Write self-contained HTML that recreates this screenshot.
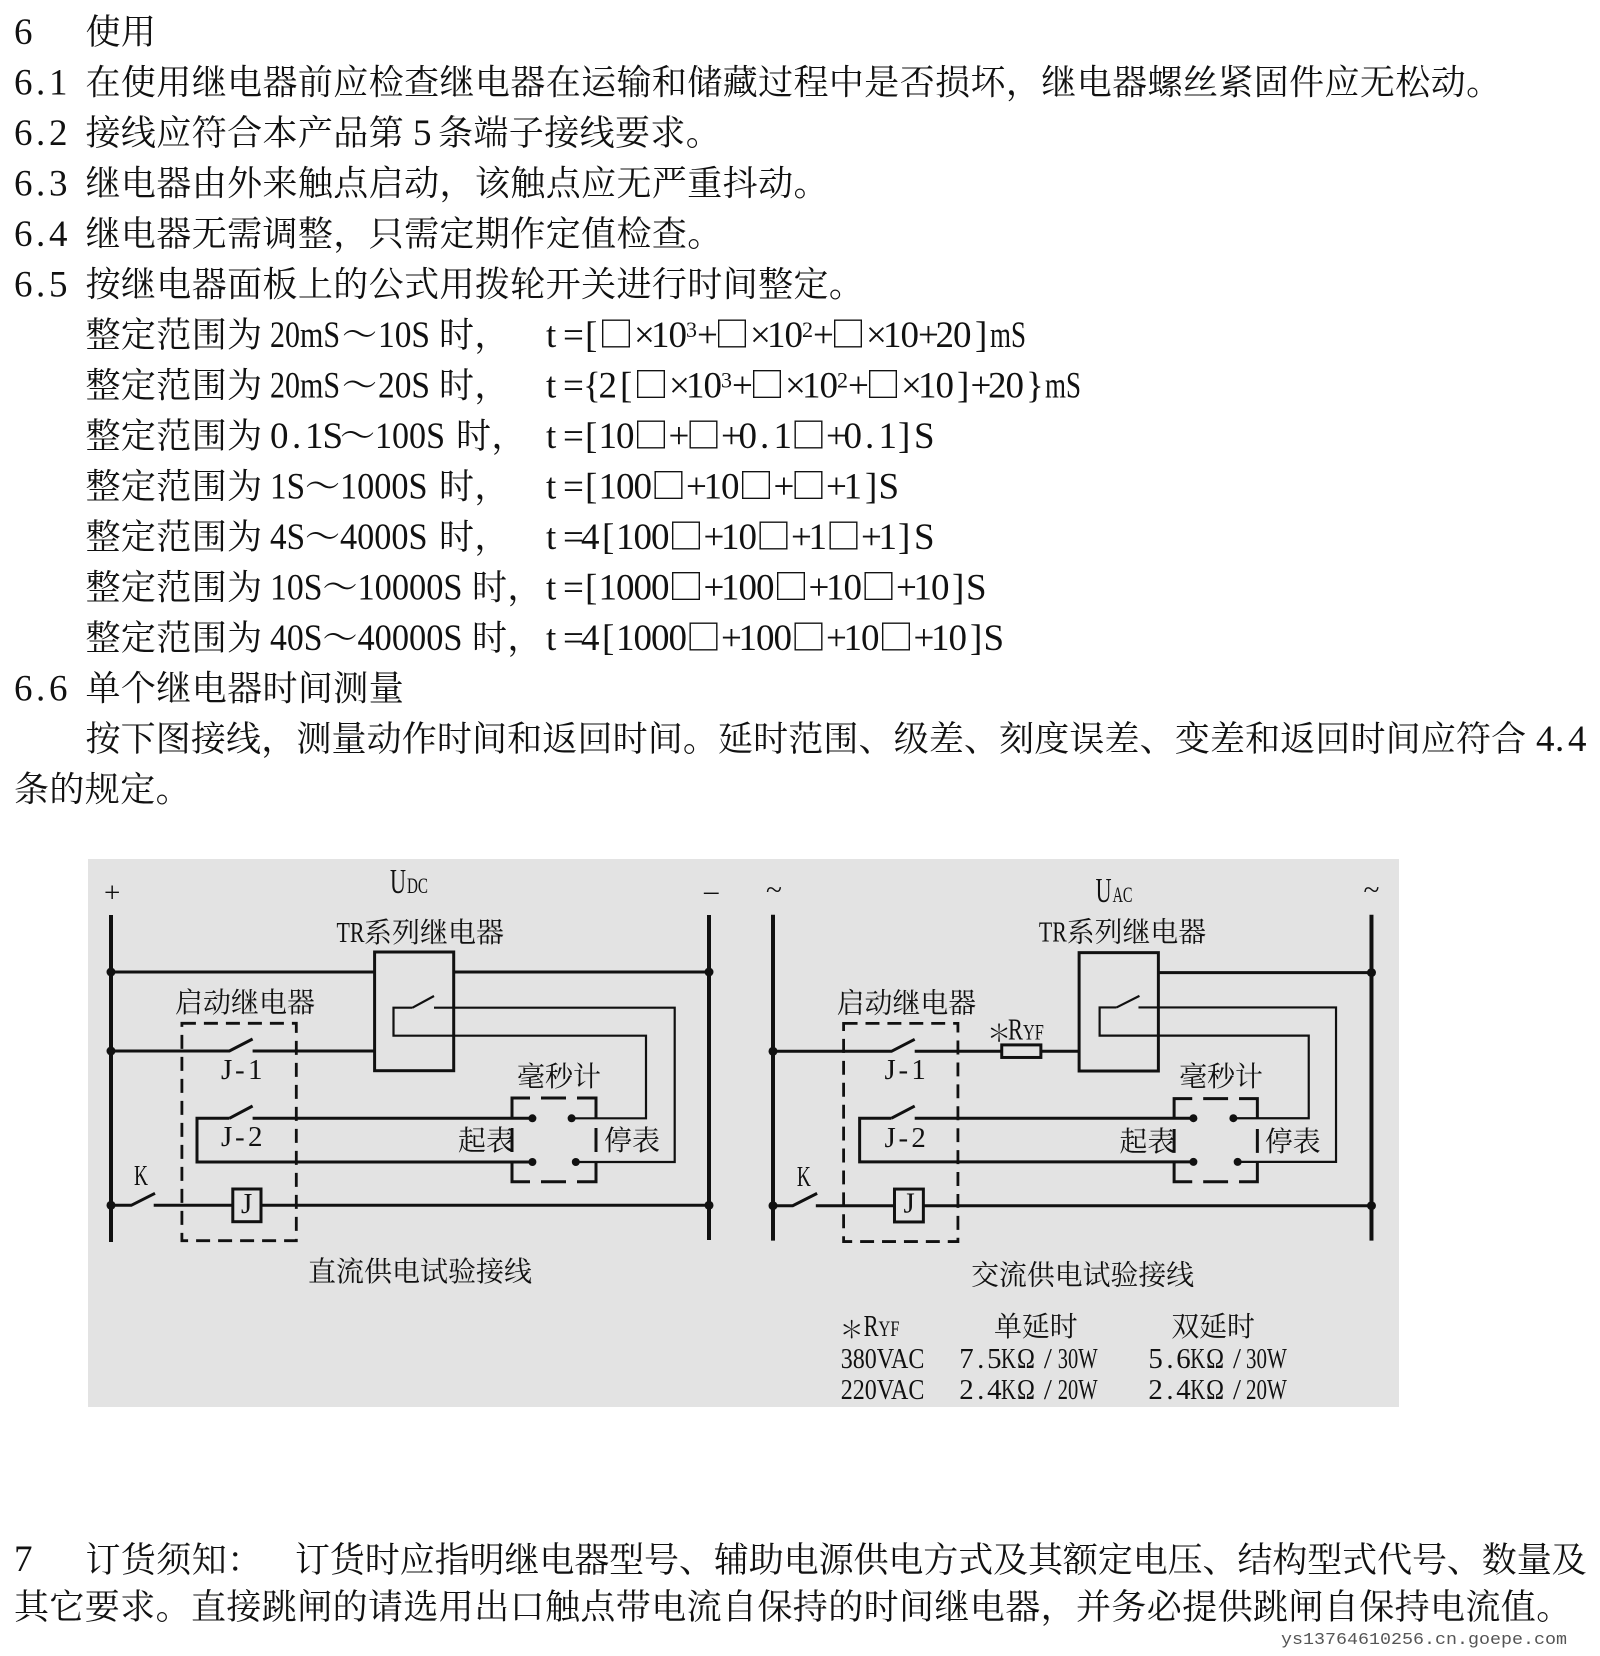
<!DOCTYPE html>
<html><head><meta charset="utf-8">
<style>
html,body{margin:0;padding:0;background:#fff}
svg{display:block}
text{fill:#111;white-space:pre}
.c{font-family:"Noto Serif CJK SC","Liberation Serif",serif;font-size:35px;letter-spacing:.4px}
.l{font:37px "Liberation Serif","Noto Serif CJK SC",serif}
.b{font-family:"Noto Serif CJK SC",serif;font-size:35px}
.sup{font:22px "Liberation Serif",serif}
.s{font:28px "Noto Serif CJK SC","Liberation Serif",serif}
.n{font:29px "Liberation Serif",serif}
.u{font:35px "Liberation Serif",serif}
.r{font:31px "Liberation Serif",serif}
.m{font:22px "Liberation Serif",serif}
.a{font:24px "Noto Serif CJK SC",serif}
.w{stroke:#111;stroke-width:3;fill:none}
.t{stroke:#111;stroke-width:2.2;fill:none}
.h{stroke:#111;stroke-width:4;fill:none}
.d{stroke:#111;stroke-width:2.8;fill:none;stroke-dasharray:14 8}
.wm{font:17px "Liberation Mono",monospace;fill:#555}
</style></head>
<body>
<svg xmlns="http://www.w3.org/2000/svg" width="1600" height="1656" viewBox="0 0 1600 1656">
<rect width="1600" height="1656" fill="#fff"/>

<!-- text body -->
<text class="l" x="14" y="44">6</text><text class="c" x="85.5" y="44">使用</text>
<text class="l" x="14 36 49" y="94.5">6.1</text><text class="c" x="85.5" y="94.5">在使用继电器前应检查继电器在运输和储藏过程中是否损坏，继电器螺丝紧固件应无松动。</text>
<text class="l" x="14 36 49" y="145">6.2</text><text class="c" x="85.5" y="145">接线应符合本产品第</text><text class="l" x="413" y="145">5</text><text class="c" x="438" y="145">条端子接线要求。</text>
<text class="l" x="14 36 49" y="195.5">6.3</text><text class="c" x="85.5" y="195.5">继电器由外来触点启动，该触点应无严重抖动。</text>
<text class="l" x="14 36 49" y="246">6.4</text><text class="c" x="85.5" y="246">继电器无需调整，只需定期作定值检查。</text>
<text class="l" x="14 36 49" y="296.5">6.5</text><text class="c" x="85.5" y="296.5">按继电器面板上的公式用拨轮开关进行时间整定。</text>

<!-- line 6 -->
<text class="c" x="85.5" y="347">整定范围为</text><text class="l" x="270" y="347" textLength="70" lengthAdjust="spacingAndGlyphs">20mS</text><text class="c" x="342" y="347">～</text><text class="l" x="378" y="347" textLength="52" lengthAdjust="spacingAndGlyphs">10S</text><text class="c" x="439" y="347">时，</text>
<text class="l" y="347" x="546 563 585 598.5 634 651 668.5 697 714.5 750 767 784.5 813 830.5 866 883 900.5 918 935.5 953 975">t=[<tspan class="b">□</tspan>×10+<tspan class="b">□</tspan>×10+<tspan class="b">□</tspan>×10+20]</text>
<text class="sup" x="686" y="337">3</text><text class="sup" x="802" y="337">2</text>
<text class="l" x="990" y="347" textLength="36" lengthAdjust="spacingAndGlyphs">mS</text>

<!-- line 7 -->
<text class="c" x="85.5" y="397.5">整定范围为</text><text class="l" x="270" y="397.5" textLength="70" lengthAdjust="spacingAndGlyphs">20mS</text><text class="c" x="342" y="397.5">～</text><text class="l" x="378" y="397.5" textLength="52" lengthAdjust="spacingAndGlyphs">20S</text><text class="c" x="439" y="397.5">时，</text>
<text class="l" y="397.5" x="546 563 583 598.5 620 633.5 669 686 703.5 732 749.5 785 802 819.5 848 865.5 901 918 935.5 957 970.5 988 1005.5 1026">t={2[<tspan class="b">□</tspan>×10+<tspan class="b">□</tspan>×10+<tspan class="b">□</tspan>×10]+20}</text>
<text class="sup" x="721" y="387.5">3</text><text class="sup" x="837" y="387.5">2</text>
<text class="l" x="1045" y="397.5" textLength="36" lengthAdjust="spacingAndGlyphs">mS</text>

<!-- line 8 -->
<text class="c" x="85.5" y="448">整定范围为</text><text class="l" x="270 292 305 322.5" y="448">0.1S</text><text class="c" x="340" y="448">～</text><text class="l" x="375" y="448" textLength="70" lengthAdjust="spacingAndGlyphs">100S</text><text class="c" x="456" y="448">时，</text>
<text class="l" y="448" x="546 563 585 598.5 616 633.5 668.5 686 721 738.5 760 773.5 791 826 843.5 865 878.5 898 914">t=[10<tspan class="b">□</tspan>+<tspan class="b">□</tspan>+0.1<tspan class="b">□</tspan>+0.1]S</text>

<!-- line 9 -->
<text class="c" x="85.5" y="498.5">整定范围为</text><text class="l" x="270" y="498.5" textLength="35" lengthAdjust="spacingAndGlyphs">1S</text><text class="c" x="305" y="498.5">～</text><text class="l" x="340" y="498.5" textLength="87.5" lengthAdjust="spacingAndGlyphs">1000S</text><text class="c" x="439" y="498.5">时，</text>
<text class="l" y="498.5" x="546 563 585 598.5 616 633.5 651 686 703.5 721 738.5 773.5 791 826 843.5 865 878.5">t=[100<tspan class="b">□</tspan>+10<tspan class="b">□</tspan>+<tspan class="b">□</tspan>+1]S</text>

<!-- line 10 -->
<text class="c" x="85.5" y="549">整定范围为</text><text class="l" x="270" y="549" textLength="35" lengthAdjust="spacingAndGlyphs">4S</text><text class="c" x="305" y="549">～</text><text class="l" x="340" y="549" textLength="87.5" lengthAdjust="spacingAndGlyphs">4000S</text><text class="c" x="439" y="549">时，</text>
<text class="l" y="549" x="546 563 581 602 616 633.5 651 668.5 703.5 721 738.5 756 791 808.5 826 861 878.5 898 914">t=4[100<tspan class="b">□</tspan>+10<tspan class="b">□</tspan>+1<tspan class="b">□</tspan>+1]S</text>

<!-- line 11 -->
<text class="c" x="85.5" y="599.5">整定范围为</text><text class="l" x="270" y="599.5" textLength="52.5" lengthAdjust="spacingAndGlyphs">10S</text><text class="c" x="322.5" y="599.5">～</text><text class="l" x="357.5" y="599.5" textLength="105" lengthAdjust="spacingAndGlyphs">10000S</text><text class="c" x="472" y="599.5">时，</text>
<text class="l" y="599.5" x="546 563 585 598.5 616 633.5 651 668.5 703.5 721 738.5 756 773.5 808.5 826 843.5 861 896 913.5 931 952 966">t=[1000<tspan class="b">□</tspan>+100<tspan class="b">□</tspan>+10<tspan class="b">□</tspan>+10]S</text>

<!-- line 12 -->
<text class="c" x="85.5" y="650">整定范围为</text><text class="l" x="270" y="650" textLength="52.5" lengthAdjust="spacingAndGlyphs">40S</text><text class="c" x="322.5" y="650">～</text><text class="l" x="357.5" y="650" textLength="105" lengthAdjust="spacingAndGlyphs">40000S</text><text class="c" x="472" y="650">时，</text>
<text class="l" y="650" x="546 563 581 602 616 633.5 651 668.5 686 721 738.5 756 773.5 791 826 843.5 861 878.5 913.5 931 948.5 970 983.5">t=4[1000<tspan class="b">□</tspan>+100<tspan class="b">□</tspan>+10<tspan class="b">□</tspan>+10]S</text>

<text class="l" x="14 36 49" y="700.5">6.6</text><text class="c" x="85.5" y="700.5">单个继电器时间测量</text>
<text class="c" x="85.5" y="751" textLength="1441">按下图接线，测量动作时间和返回时间。延时范围、级差、刻度误差、变差和返回时间应符合</text><text class="l" x="1536 1555 1568" y="751">4.4</text>
<text class="c" x="14" y="801.5">条的规定。</text>

<!-- panel -->
<rect x="88" y="859" width="1311" height="548" fill="#e3e3e3"/>

<!-- LEFT DIAGRAM -->
<path class="h" d="M111 915V1242M709 915V1240"/>
<path class="w" d="M111 972H374.6M453.7 972H709M111 1051H229.4L252.6 1039M252.6 1051H374.6"/>
<rect class="w" x="374.6" y="952" width="79.1" height="118.7"/>
<path class="t" d="M434 1007.7H674.7V1162H575.8M412.5 1007.7L434 996M412.5 1007.7H393.5V1035.7H646V1118.3H571.6"/>
<path class="w" d="M252.6 1118.3H532.4M229.4 1118.3L252.6 1106M229.4 1118.3H197V1162H532.4"/>
<path class="w" d="M111 1205.3H131.3L155 1193.3M153.7 1205.3H232.8M261 1205.3H709"/>
<rect class="w" x="232.8" y="1189" width="28.2" height="32.7"/>
<rect class="d" x="181.9" y="1023.3" width="114.4" height="217.4"/>
<path class="w" d="M512 1118V1098H530M541 1098H566M577 1098H596V1118M512 1128V1152M596 1128V1152M512 1162V1181.7H530M541 1181.7H566M577 1181.7H596V1162"/>
<g fill="#111"><circle cx="111" cy="972" r="4.5"/><circle cx="709" cy="972" r="4.5"/><circle cx="111" cy="1051" r="4.5"/><circle cx="111" cy="1205.3" r="4.5"/><circle cx="709" cy="1205.3" r="4.5"/><circle cx="532.4" cy="1118.3" r="4"/><circle cx="571.6" cy="1118.3" r="4"/><circle cx="532.4" cy="1162" r="4"/><circle cx="575.8" cy="1162" r="4"/></g>

<text class="n" x="104" y="902">+</text><text class="n" x="704" y="900">–</text>
<text class="u" x="390" y="893" textLength="16" lengthAdjust="spacingAndGlyphs">U</text><text class="m" x="407" y="893" textLength="21" lengthAdjust="spacingAndGlyphs">DC</text>
<text class="n" x="336.5" y="942" textLength="28" lengthAdjust="spacingAndGlyphs">TR</text><text class="s" x="364" y="942">系列继电器</text>
<text class="s" x="175" y="1012">启动继电器</text>
<text class="n" x="221 235 248" y="1079">J-1</text><text class="n" x="221 235 248" y="1146">J-2</text>
<text class="n" x="134" y="1185" textLength="14" lengthAdjust="spacingAndGlyphs">K</text>
<text class="n" x="241" y="1213">J</text>
<text class="s" x="517" y="1086">毫秒计</text>
<text class="s" x="458" y="1150">起表</text><text class="s" x="604" y="1150">停表</text>
<text class="s" x="308" y="1281">直流供电试验接线</text>

<!-- RIGHT DIAGRAM -->
<g transform="translate(773 859) scale(.9958 .9963) translate(-773 -859)">
<path class="h" d="M773 915V1242M1374 915V1242"/>
<path class="w" d="M1160 973H1374M773 1052H892L915.3 1040M915.3 1052H1002.7M1042 1052H1080.4"/>
<rect class="w" x="1080.4" y="953" width="79.6" height="118.8"/>
<rect class="w" x="1002.7" y="1045.6" width="39.3" height="12.6"/>
<path class="t" d="M1140 1008H1338.4V1163H1239.6M1118 1008L1141 996.4M1118 1008H1101V1036.3H1311V1119.2H1235.3"/>
<path class="w" d="M915.3 1119.2H1195.2M892 1119.2L915.3 1107M892 1119.2H860V1163H1195.2"/>
<path class="w" d="M773 1207H792.8L817.3 1194.6M816 1207H895M924 1207H1374"/>
<rect class="w" x="895" y="1190.3" width="29" height="33"/>
<rect class="d" x="843.9" y="1024" width="114.8" height="219"/>
<path class="w" d="M1175.8 1119V1099.5H1194M1205 1099.5H1230M1241 1099.5H1259.4V1119M1175.8 1130V1154M1259.4 1130V1154M1175.8 1163V1183H1194M1205 1183H1230M1241 1183H1259.4V1163"/>
<g fill="#111"><circle cx="773" cy="1052" r="4.5"/><circle cx="1374" cy="973" r="4.5"/><circle cx="773" cy="1207" r="4.5"/><circle cx="1374" cy="1207" r="4.5"/><circle cx="1195.2" cy="1119.2" r="4"/><circle cx="1235.3" cy="1119.2" r="4"/><circle cx="1195.2" cy="1163" r="4"/><circle cx="1239.6" cy="1163" r="4"/></g>

<text class="n" x="766" y="899" textLength="16" lengthAdjust="spacingAndGlyphs">~</text><text class="n" x="1366" y="899" textLength="16" lengthAdjust="spacingAndGlyphs">~</text>
<text class="u" x="1097" y="902" textLength="16" lengthAdjust="spacingAndGlyphs">U</text><text class="m" x="1114" y="902" textLength="20" lengthAdjust="spacingAndGlyphs">AC</text>
<text class="n" x="1040" y="942" textLength="28" lengthAdjust="spacingAndGlyphs">TR</text><text class="s" x="1068" y="942">系列继电器</text>
<text class="s" x="837" y="1013">启动继电器</text>
<text class="a" x="988" y="1042">＊</text><text class="r" x="1009" y="1040" textLength="15" lengthAdjust="spacingAndGlyphs">R</text><text class="m" x="1024" y="1040" textLength="21" lengthAdjust="spacingAndGlyphs">YF</text>
<text class="n" x="885 899 912" y="1080">J-1</text><text class="n" x="885 899 912" y="1148">J-2</text>
<text class="n" x="797" y="1187" textLength="14" lengthAdjust="spacingAndGlyphs">K</text>
<text class="n" x="904" y="1214">J</text>
<text class="s" x="1181" y="1087">毫秒计</text>
<text class="s" x="1121" y="1152">起表</text><text class="s" x="1267" y="1152">停表</text>
<text class="s" x="972" y="1286">交流供电试验接线</text>

<text class="a" x="840" y="1340">＊</text><text class="r" x="864" y="1338" textLength="15" lengthAdjust="spacingAndGlyphs">R</text><text class="m" x="879" y="1338" textLength="21" lengthAdjust="spacingAndGlyphs">YF</text>
<text class="s" x="995" y="1338">单延时</text><text class="s" x="1173" y="1338">双延时</text>
<text class="n" x="841" y="1370" textLength="84" lengthAdjust="spacingAndGlyphs">380VAC</text>
<text class="n" x="841" y="1401" textLength="84" lengthAdjust="spacingAndGlyphs">220VAC</text>

<text class="n" x="960 978 988" y="1370">7.5</text><text class="n" x="1002" y="1370" textLength="15" lengthAdjust="spacingAndGlyphs">K</text><text class="n" x="1018" y="1370" textLength="18" lengthAdjust="spacingAndGlyphs">Ω</text><text class="n" x="1045" y="1370">/</text><text class="n" x="1059" y="1370" textLength="40" lengthAdjust="spacingAndGlyphs">30W</text>
<text class="n" x="960 978 988" y="1401">2.4</text><text class="n" x="1002" y="1401" textLength="15" lengthAdjust="spacingAndGlyphs">K</text><text class="n" x="1018" y="1401" textLength="18" lengthAdjust="spacingAndGlyphs">Ω</text><text class="n" x="1045" y="1401">/</text><text class="n" x="1059" y="1401" textLength="40" lengthAdjust="spacingAndGlyphs">20W</text>

<text class="n" x="1150 1168 1178" y="1370">5.6</text><text class="n" x="1192" y="1370" textLength="15" lengthAdjust="spacingAndGlyphs">K</text><text class="n" x="1208" y="1370" textLength="18" lengthAdjust="spacingAndGlyphs">Ω</text><text class="n" x="1235" y="1370">/</text><text class="n" x="1248" y="1370" textLength="41" lengthAdjust="spacingAndGlyphs">30W</text>
<text class="n" x="1150 1168 1178" y="1401">2.4</text><text class="n" x="1192" y="1401" textLength="15" lengthAdjust="spacingAndGlyphs">K</text><text class="n" x="1208" y="1401" textLength="18" lengthAdjust="spacingAndGlyphs">Ω</text><text class="n" x="1235" y="1401">/</text><text class="n" x="1248" y="1401" textLength="41" lengthAdjust="spacingAndGlyphs">20W</text>
</g>

<!-- section 7 -->
<text class="l" x="14" y="1571">7</text><text class="c" x="85.5" y="1572">订货须知：</text><text class="c" x="295" y="1572" textLength="1292">订货时应指明继电器型号、辅助电源供电方式及其额定电压、结构型式代号、数量及</text>
<text class="c" x="14" y="1619">其它要求。直接跳闸的请选用出口触点带电流自保持的时间继电器，并务必提供跳闸自保持电流值。</text>
<text class="wm" x="1281" y="1644" textLength="286" lengthAdjust="spacingAndGlyphs">ys13764610256.cn.goepe.com</text>
</svg>
</body></html>
